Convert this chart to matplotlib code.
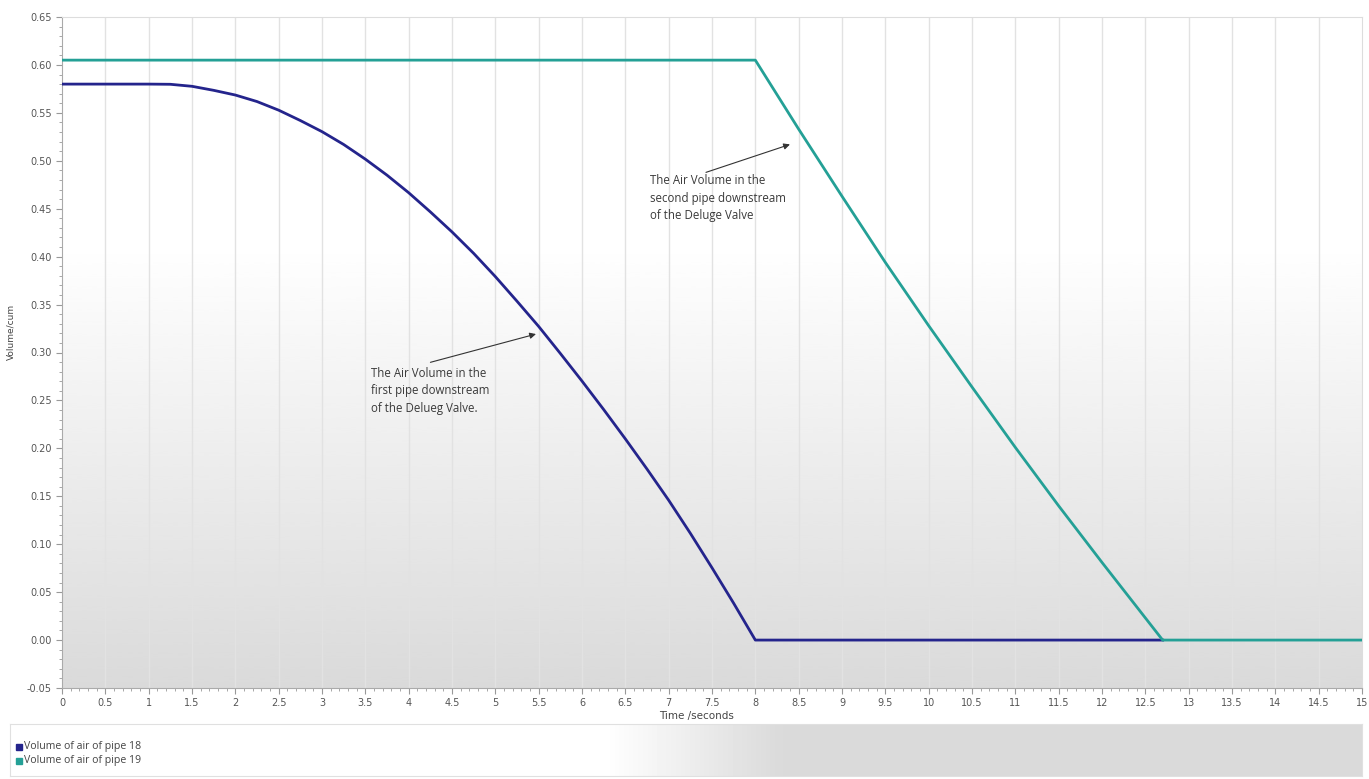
"""
Air volume in the pipes downstream of the deluge valve.
"""

import numpy as np
import matplotlib.pyplot as plt
from matplotlib.ticker import MultipleLocator, FormatStrFormatter, FuncFormatter

# pipe 18: first pipe downstream of the valve
t_pipe18 = [0, 0.5, 1.0, 1.25, 1.5, 1.75, 2.0, 2.25, 2.5, 2.75, 3.0, 3.25, 3.5, 3.75,
            4.0, 4.25, 4.5, 4.75, 5.0, 5.25, 5.5, 5.75, 6.0, 6.25, 6.5, 6.75, 7.0,
            7.25, 7.5, 7.75, 8.0, 12.7]
v_pipe18 = [0.58, 0.58, 0.58, 0.5798, 0.5777, 0.5735, 0.5686, 0.5618, 0.5528, 0.5420,
            0.5304, 0.5170, 0.5017, 0.4850, 0.4667, 0.4467, 0.4258, 0.4034, 0.3792,
            0.3535, 0.3272, 0.2990, 0.2702, 0.2405, 0.2099, 0.1784, 0.1459, 0.1114,
            0.0754, 0.0384, 0.0, 0.0]

# pipe 19: second pipe downstream of the valve
t_pipe19 = [0, 8.0, 8.5, 9.0, 9.5, 10.0, 10.5, 11.0, 11.5, 12.0, 12.7, 15.0]
v_pipe19 = [0.605, 0.605, 0.533, 0.463, 0.394, 0.328, 0.264, 0.201, 0.140, 0.081, 0.0, 0.0]

series_labels = ["Volume of air of pipe 18", "Volume of air of pipe 19"]
series_colors = ["#24248c", "#24a096"]

note_pipe18 = "The Air Volume in the\nfirst pipe downstream\nof the Delueg Valve."
note_pipe19 = "The Air Volume in the\nsecond pipe downstream\nof the Deluge Valve"

W, H = 1369, 779
fig = plt.figure(figsize=(W / 100, H / 100), dpi=100)
ax = fig.add_axes([62 / W, 1 - 688 / H, 1300 / W, 671 / H])

# background gradient: white at top, light grey at bottom
yy = np.linspace(0, 1, 256)
grad = np.where(yy < 0.66, 0.855 + 0.145 * (yy / 0.66), 1.0).reshape(-1, 1)
ax.imshow(grad, extent=[0, 15, -0.05, 0.65], origin="lower", cmap="gray",
          vmin=0, vmax=1, aspect="auto", zorder=0, interpolation="bicubic")

ax.set_xlim(0, 15)
ax.set_ylim(-0.05, 0.65)

for x in np.arange(0.5, 15, 0.5):
    ax.axvline(x, color="#e2e2e2", lw=1.0, zorder=1)

ax.plot(t_pipe18, v_pipe18, color=series_colors[0], lw=2.0, zorder=3,
        solid_joinstyle="round")
ax.plot(t_pipe19, v_pipe19, color=series_colors[1], lw=2.0, zorder=4,
        solid_joinstyle="round")

note_kw = dict(fontsize=8.3, color="#3a3a3a", ha="left", va="top", linespacing=1.45,
               family="Open Sans")
arrow_kw = dict(arrowstyle="-|>", color="#333333", lw=0.8, mutation_scale=9)
ax.text(3.56, 0.285, note_pipe18, **note_kw)
ax.annotate("", xy=(5.50, 0.320), xytext=(4.22, 0.289), arrowprops=arrow_kw)
ax.text(6.79, 0.486, note_pipe19, **note_kw)
ax.annotate("", xy=(8.43, 0.518), xytext=(7.40, 0.487), arrowprops=arrow_kw)

# axes styling
ax.xaxis.set_major_locator(MultipleLocator(0.5))
ax.xaxis.set_minor_locator(MultipleLocator(0.1))
ax.yaxis.set_major_locator(MultipleLocator(0.05))
ax.yaxis.set_minor_locator(MultipleLocator(0.01))
ax.xaxis.set_major_formatter(FuncFormatter(lambda v, p: f"{v:g}"))
ax.yaxis.set_major_formatter(FormatStrFormatter("%.2f"))
ax.tick_params(which="both", colors="#999999", labelcolor="#555555", labelsize=7)
ax.tick_params(which="major", length=4, width=0.8)
ax.tick_params(which="minor", length=2, width=0.6)
for side in ["left", "bottom"]:
    ax.spines[side].set_color("#aaaaaa")
for side in ["top", "right"]:
    ax.spines[side].set_color("#dddddd")

ax.set_xlabel("Time /seconds", fontsize=7.5, color="#444444")
ax.xaxis.set_label_coords(0.488, -0.035)
ax.set_ylabel("Volume/cum", fontsize=6.5, color="#444444")
ax.yaxis.set_label_coords(-0.036, 0.53)

# legend panel below the plot, white fading to grey
lax = fig.add_axes([10 / W, 1 - 776 / H, 1352 / W, 52 / H])
xx = np.linspace(0, 1, 256)
lgrad = np.clip(1.0 - (xx - 0.44) / 0.13 * 0.145, 0.855, 1.0).reshape(1, -1)
lax.imshow(lgrad, extent=[0, 1, 0, 1], cmap="gray", vmin=0, vmax=1, aspect="auto",
           interpolation="bicubic")
lax.set_xlim(0, 1)
lax.set_ylim(0, 1)
lax.set_xticks([])
lax.set_yticks([])
for s in lax.spines.values():
    s.set_color("#e0e0e0")
for i, (lab, col) in enumerate(zip(series_labels, series_colors)):
    y = 0.56 - i * 0.27
    lax.plot([0.0068], [y], marker="s", ms=4.5, color=col, ls="none")
    lax.text(0.0105, y, lab, fontsize=7.6, color="#444444", va="center", ha="left",
             family="Open Sans")

fig.savefig("out.png", dpi=100, facecolor="white")
